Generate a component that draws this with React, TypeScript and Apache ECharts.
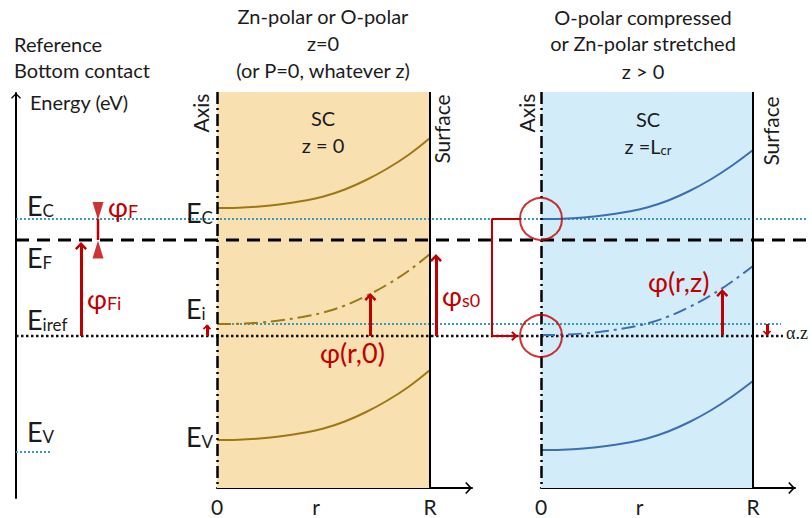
import React, { useEffect, useRef } from 'react';
import * as echarts from 'echarts';

// ---------------- data (energies in eV, E_F = 0; r in units of R) ----------------
const rSamples = [0, 0.1, 0.2, 0.3, 0.4, 0.5, 0.6, 0.7, 0.8, 0.9, 1];
// band bending phi(r) (eV) for the z = 0 panel and the z = Lcr panel
const bendingZ0 = [0, 0.003, 0.015, 0.037, 0.07, 0.115, 0.185, 0.28, 0.395, 0.533, 0.7];
const bendingZ = [0, 0.003, 0.015, 0.037, 0.07, 0.115, 0.185, 0.28, 0.395, 0.533, 0.69];
// band edges on the wire axis: [Ec, Ei, Ev]
const axisEdgesZ0 = [0.32, -0.84, -2.0];
const axisEdgesZ = [0.21, -0.95, -2.1];
// reference (bottom contact) levels: [Ec, EF, Eiref, Ev]
const refLevels = [0.21, 0, -0.96, -2.12];
// intrinsic level on the axis at z = 0 (teal dotted line)
const eiAxisZ0 = -0.84;
// r axis ticks
const rTicks = [0, 0.465, 1];
const rTickLabels = ['0', 'r', 'R'];
// red arrows: [r position, from energy, to energy]
const phiR0Arrow = [0.72, -0.96, -0.55];
const phiS0Arrow = [1.028, -0.96, -0.16];
const phiRzArrow = [0.855, -0.95, -0.51];
// phi_F marker: centres of the two triangles (eV)
const phiFTriangles = [0.29, -0.095];

// ---------------- layout & styles ----------------
const W = 812;
const H = 518;
const FONT = "Lato, 'Noto Sans', 'DejaVu Sans', sans-serif";
const SERIF = "'Liberation Serif', 'DejaVu Serif', serif";
const INK = '#1b1b1b';
const RED = '#c00000';
const TEAL = '#3a9ab8';
const GOLD = '#9b7815';
const BLUE = '#3c6eb4';
const ORANGE_FILL = '#f9e0b0';
const BLUE_FILL = '#d3ecf9';
const PANEL_TOP_E = 1.48;
const PANEL_BOTTOM_E = -2.48;
const TXT = 20;

const RED_HEAD = 'path://M8,0L14,6.2L12.2,8L8,3.6L3.8,8L2,6.2ZM0,-6M16,10';
const AXIS_HEAD = 'path://M6,0L12,5.6L11,6.8L6,2.2L1,6.8L0,5.6ZM6,-6.8';

const T = (x: number, y: number, text: string, o: any = {}) => ({
  type: 'text',
  x,
  y,
  z: 100,
  silent: true,
  rotation: o.rotation || 0,
  style: {
    text,
    fill: o.color || INK,
    fontFamily: o.family || FONT,
    fontSize: o.size || TXT,
    align: o.align || 'left',
    textAlign: o.align || 'left',
    verticalAlign: 'middle',
    textVerticalAlign: 'middle',
  },
});

const S = (x: number, y: number, main: string, sub: string, o: any = {}) => {
  const size = o.size ?? 27;
  const ss = o.subSize ?? 17;
  const color = o.color ?? INK;
  const align = o.align ?? 'left';
  return {
    type: 'text',
    x,
    y,
    z: 100,
    silent: true,
    style: {
      text: `{m|${main}}{s|${sub}}`,
      fill: color,
      fontFamily: FONT,
      fontSize: size,
      align,
      textAlign: align,
      verticalAlign: 'middle',
      textVerticalAlign: 'middle',
      rich: {
        m: { fontSize: size, lineHeight: size + 4, verticalAlign: 'bottom', fontFamily: FONT, fill: color, color },
        s: { fontSize: ss, lineHeight: ss - 1, verticalAlign: 'bottom', fontFamily: FONT, fill: color, color },
      },
    },
  };
};

const rAxis = (gridIndex: number, max: number) => ({
  gridIndex,
  type: 'value',
  min: 0,
  max,
  axisLine: {
    show: true,
    onZero: false,
    symbol: ['none', AXIS_HEAD],
    symbolSize: [12, 13.6],
    lineStyle: { color: '#000', width: 2 },
  },
  axisTick: { show: false },
  splitLine: { show: false },
  axisLabel: {
    show: true,
    customValues: rTicks,
    formatter: (v: number) => {
      const i = rTicks.findIndex((t) => Math.abs(t - v) < 1e-6);
      return i >= 0 ? rTickLabels[i] : '';
    },
    fontFamily: FONT,
    fontSize: 21,
    color: INK,
    margin: 8,
  },
});

const hiddenAxis = (gridIndex: number, min: number, max: number) => ({
  gridIndex,
  type: 'value',
  min,
  max,
  show: false,
  splitLine: { show: false },
});

const hline = (x0: number, x1: number, e: number, color: string, width: number, type: any) => ({
  type: 'line',
  xAxisIndex: 0,
  yAxisIndex: 0,
  data: [
    [x0, e],
    [x1, e],
  ],
  symbol: 'none',
  silent: true,
  z: 2,
  lineStyle: { color, width, type },
});

const curve = (ai: number, edge: number, bend: number[], color: string, dashed: boolean) => ({
  type: 'line',
  xAxisIndex: ai,
  yAxisIndex: ai,
  data: rSamples.map((r, i) => [r, edge + bend[i]]),
  smooth: 0.4,
  symbol: 'none',
  silent: true,
  z: 3,
  lineStyle: { color, width: 2, type: dashed ? [14, 5, 3, 5] : 'solid' },
});

const panelFrame = (ai: number, fill: string) => ({
  type: 'line',
  xAxisIndex: ai,
  yAxisIndex: ai,
  data: [],
  silent: true,
  z: 0,
  markArea: {
    silent: true,
    itemStyle: { color: fill },
    label: { show: false },
    data: [[{ coord: [0, PANEL_TOP_E] }, { coord: [1, PANEL_BOTTOM_E] }]],
  },
  markLine: {
    silent: true,
    symbol: ['none', 'none'],
    label: { show: false },
    emphasis: { disabled: true },
    data: [
      [
        { coord: [0, PANEL_TOP_E], lineStyle: { color: '#000', width: 2.5, type: [12, 4, 2, 4] } },
        { coord: [0, PANEL_BOTTOM_E] },
      ],
      [
        { coord: [1, PANEL_TOP_E], lineStyle: { color: '#000', width: 2, type: 'solid' } },
        { coord: [1, PANEL_BOTTOM_E] },
      ],
    ],
  },
});

const arrowSeries = (ai: number, lines: any[], width = 3) => ({
  type: 'line',
  xAxisIndex: ai,
  yAxisIndex: ai,
  data: [],
  silent: true,
  z: 6,
  markLine: {
    silent: true,
    symbol: ['none', RED_HEAD],
    symbolSize: 16,
    label: { show: false },
    emphasis: { disabled: true },
    lineStyle: { color: RED, width, type: 'solid' },
    data: lines,
  },
});

const arrow = (x: number, e0: number, e1: number, size = 16) => [
  { coord: [x, e0] },
  { coord: [x, e1], symbolSize: size },
];

function buildOption(): any {
  const [refEc, refEF, refEiref, refEv] = refLevels;
  const series: any[] = [
    panelFrame(2, ORANGE_FILL),
    panelFrame(3, BLUE_FILL),
    // reference levels across the figure
    hline(16, 812, refEF, '#000', 3, [13, 8]),
    hline(16, 808, refEc, TEAL, 2, [2, 2]),
    hline(16, 783, refEiref, '#111', 2.5, [2.5, 2.5]),
    hline(220, 781, eiAxisZ0, TEAL, 2, [2, 2]),
    hline(16, 51, refEv, TEAL, 2, [2, 2]),
    // band curves
    curve(2, axisEdgesZ0[0], bendingZ0, GOLD, false),
    curve(2, axisEdgesZ0[1], bendingZ0, GOLD, true),
    curve(2, axisEdgesZ0[2], bendingZ0, GOLD, false),
    curve(3, axisEdgesZ[0], bendingZ, BLUE, false),
    curve(3, axisEdgesZ[1], bendingZ, BLUE, true),
    curve(3, axisEdgesZ[2], bendingZ, BLUE, false),
    // phi_F marker
    {
      type: 'line',
      xAxisIndex: 0,
      yAxisIndex: 0,
      data: [
        [98, refEc],
        [98, refEF],
      ],
      symbol: 'none',
      silent: true,
      z: 5,
      lineStyle: { color: RED, width: 2.5 },
    },
    {
      type: 'scatter',
      xAxisIndex: 0,
      yAxisIndex: 0,
      data: [
        { value: [98, phiFTriangles[0]], symbolRotate: 180 },
        { value: [98, phiFTriangles[1]] },
      ],
      symbol: 'triangle',
      symbolSize: [11, 18],
      itemStyle: { color: RED },
      silent: true,
      z: 5,
    },
    // bracket linking the two circles
    {
      type: 'line',
      xAxisIndex: 0,
      yAxisIndex: 0,
      data: [
        [520, refEc],
        [492, refEc],
        [492, refEiref],
      ],
      symbol: 'none',
      silent: true,
      z: 5,
      lineStyle: { color: RED, width: 2 },
      markLine: {
        silent: true,
        symbol: ['none', RED_HEAD],
        symbolSize: 13,
        label: { show: false },
        lineStyle: { color: RED, width: 2, type: 'solid' },
        data: [[{ coord: [492, refEiref] }, { coord: [516, refEiref] }]],
      },
    },
    // circles on the axis of the stretched wire
    {
      type: 'scatter',
      xAxisIndex: 3,
      yAxisIndex: 3,
      data: [
        [0, axisEdgesZ[0]],
        [0, refEiref],
      ],
      symbol: 'circle',
      symbolSize: 42,
      itemStyle: { color: 'rgba(0,0,0,0)', borderColor: RED, borderWidth: 2 },
      silent: true,
      z: 5,
    },
    // red arrows
    arrowSeries(0, [
      arrow(81, refEiref, refEF - 0.04),
      arrow(207, refEiref, eiAxisZ0 - 0.015, 11),
      arrow(767, eiAxisZ0, refEiref + 0.015, 11),
    ]),
    arrowSeries(2, [
      arrow(phiR0Arrow[0], phiR0Arrow[1], phiR0Arrow[2]),
      arrow(phiS0Arrow[0], phiS0Arrow[1], phiS0Arrow[2]),
    ]),
    arrowSeries(3, [arrow(phiRzArrow[0], phiRzArrow[1], phiRzArrow[2])]),
  ];

  const graphics: any[] = [
    T(14, 44, 'Reference'),
    T(14, 70, 'Bottom contact'),
    T(30, 102, 'Energy (eV)'),
    T(323, 16, 'Zn-polar or O-polar', { align: 'center' }),
    T(323, 43, 'z=0', { align: 'center' }),
    T(323, 70, '(or P=0, whatever z)', { align: 'center' }),
    T(643, 17, 'O-polar compressed', { align: 'center' }),
    T(643, 43, 'or Zn-polar stretched', { align: 'center' }),
    T(643, 71, 'z > 0', { align: 'center' }),
    T(323, 118, 'SC', { align: 'center' }),
    T(323, 145, 'z = 0', { align: 'center' }),
    T(648, 119, 'SC', { align: 'center' }),
    S(648, 144, 'z =L', 'cr', { size: 20, subSize: 13, align: 'center' }),
    T(200, 113, 'Axis', { size: 21, rotation: Math.PI / 2, align: 'center' }),
    T(441, 129, 'Surface', { size: 21, rotation: Math.PI / 2, align: 'center' }),
    T(526, 113, 'Axis', { size: 21, rotation: Math.PI / 2, align: 'center' }),
    T(770, 131, 'Surface', { size: 21, rotation: Math.PI / 2, align: 'center' }),
    // energy labels
    S(27, 203, 'E', 'C'),
    S(27, 255, 'E', 'F'),
    S(27, 317, 'E', 'iref'),
    S(27, 429, 'E', 'V'),
    S(186, 210, 'E', 'C'),
    S(186, 306, 'E', 'i'),
    S(186, 434, 'E', 'V'),
    // potentials
    S(108, 204, 'φ', 'F', { color: RED, size: 27, subSize: 18 }),
    S(87, 296, 'φ', 'Fi', { color: RED, size: 27, subSize: 18 }),
    S(442, 293, 'φ', 's0', { color: RED, size: 27, subSize: 18 }),
    T(320, 352, 'φ(r,0)', { color: RED, size: 27 }),
    T(648, 281, 'φ(r,z)', { color: RED, size: 27 }),
    T(786, 333, 'α.z', { family: SERIF, size: 18 }),
  ];

  return {
    animation: false,
    backgroundColor: '#ffffff',
    grid: [
      { left: 0, top: 0, width: W, height: H },
      { left: 16, top: 93, width: 10, height: 405 },
      { left: 217, top: 0, width: 255, height: 488 },
      { left: 541, top: 0, width: 254, height: 488 },
    ],
    xAxis: [hiddenAxis(0, 0, W), hiddenAxis(1, 0, 1), rAxis(2, 255 / 213), rAxis(3, 254 / 212)],
    yAxis: [
      hiddenAxis(0, -2.78, 2.4),
      {
        gridIndex: 1,
        type: 'value',
        min: -2.58,
        max: 1.47,
        position: 'left',
        axisLine: {
          show: true,
          onZero: false,
          symbol: ['none', AXIS_HEAD],
          symbolSize: [10, 11.3],
          lineStyle: { color: '#000', width: 2 },
        },
        axisTick: { show: false },
        axisLabel: { show: false },
        splitLine: { show: false },
      },
      hiddenAxis(2, -2.48, 2.4),
      hiddenAxis(3, -2.48, 2.4),
    ],
    graphic: { elements: graphics },
    series,
  };
}

export default function App() {
  const ref = useRef<HTMLDivElement>(null);
  useEffect(() => {
    if (!ref.current) return;
    const chart = echarts.init(ref.current, null, { renderer: 'svg' });
    chart.setOption(buildOption());
    return () => chart.dispose();
  }, []);
  return <div ref={ref} style={{ position: 'absolute', left: 0, top: 0, width: W, height: H }} />;
}
